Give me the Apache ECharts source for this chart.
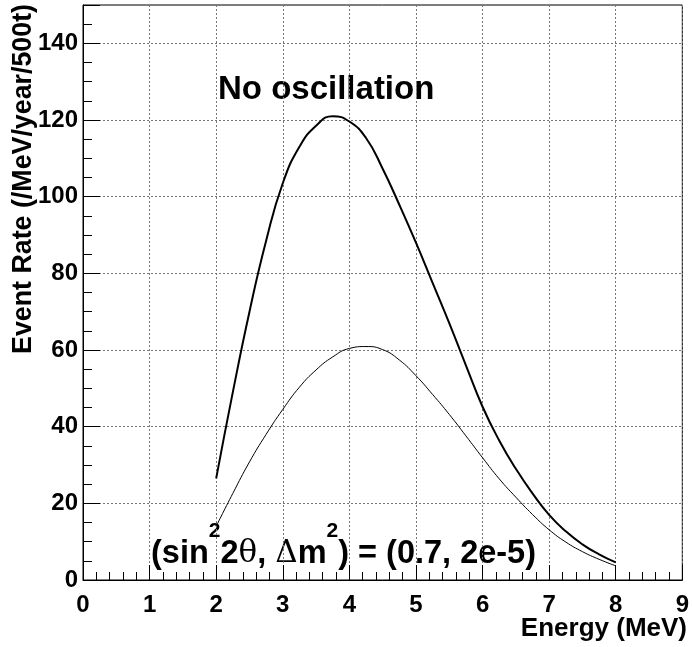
<!DOCTYPE html>
<html>
<head>
<meta charset="utf-8">
<script src="https://cdn.jsdelivr.net/npm/echarts@6/dist/echarts.min.js"></script>
<style>
html,body{margin:0;padding:0;background:#fff;}
#chart{width:692px;height:647px;}
</style>
</head>
<body>
<div id="chart"></div>
<script>
// ---- data ----
var energy = [2, 2.25, 2.5, 2.75, 3, 3.25, 3.5, 3.75, 4, 4.25, 4.5, 4.75, 5, 5.25, 5.5, 5.75, 6, 6.25, 6.5, 6.75, 7, 7.25, 7.5, 7.75, 8];
var noOscillation = [26.5, 49, 70, 88.5, 103.5, 113, 118.5, 121, 119.6, 115.3, 107.3, 97.9, 88, 77.5, 67, 56, 45.2, 36.4, 29, 22.6, 17, 12.7, 9.3, 6.7, 4.6];
var withOscillation = [14, 22.6, 30.8, 38, 44.5, 50.3, 54.8, 58.2, 60.4, 60.9, 60.1, 57.4, 53.3, 48.4, 43.2, 37.6, 31.9, 26.4, 21.6, 17.1, 13.1, 9.9, 7.4, 5.4, 3.7];
var xTickLabels = ['0', '1', '2', '3', '4', '5', '6', '7', '8', '9'];
var yTickLabels = ['0', '20', '40', '60', '80', '100', '120', '140'];
var xTitle = 'Energy (MeV)';
var yTitle = 'Event Rate (/MeV/year/500t)';
var label1 = 'No oscillation';

function pairs(xs, ys) { return xs.map(function (x, i) { return [x, ys[i]]; }); }

var FONT = 'Liberation Sans, Arial, Helvetica, sans-serif';
var chart = echarts.init(document.getElementById('chart'), null, {renderer: 'canvas'});
var gridLine = {show: true, lineStyle: {color: '#777', type: [2, 2], width: 1}};

var option = {
  backgroundColor: '#fff',
  animation: false,
  grid: {left: 83, right: 5, top: 5, bottom: 67, show: true, borderColor: '#000', borderWidth: 1, backgroundColor: 'transparent'},
  xAxis: [{
    type: 'value', min: 0, max: 9, interval: 1,
    axisLine: {show: true, onZero: false, lineStyle: {color: '#000', width: 1}},
    axisTick: {show: true, inside: true, length: 15, lineStyle: {color: '#000'}},
    minorTick: {show: true, splitNumber: 5, length: 8, lineStyle: {color: '#000'}},
    splitLine: gridLine,
    axisLabel: {
      margin: 13, color: '#000', fontFamily: FONT, fontWeight: 'bold', fontSize: 24,
      formatter: function (v) { var i = Math.round(v); return xTickLabels[i] !== undefined ? xTickLabels[i] : ''; }
    }
  }],
  yAxis: [{
    type: 'value', min: 0, max: 150, interval: 20,
    axisLine: {show: true, onZero: false, lineStyle: {color: '#000', width: 1}},
    axisTick: {show: true, inside: true, length: 17, lineStyle: {color: '#000'}},
    splitLine: gridLine,
    axisLabel: {
      margin: 5, color: '#000', fontFamily: FONT, fontWeight: 'bold', fontSize: 24,
      formatter: function (v) { var i = Math.round(v / 20); return (v % 20 === 0 && yTickLabels[i] !== undefined) ? yTickLabels[i] : ''; }
    }
  }, {
    type: 'value', min: 0, max: 150, interval: 5, position: 'left',
    axisLine: {show: false}, axisLabel: {show: false}, splitLine: {show: false},
    axisTick: {show: true, inside: true, length: 9, lineStyle: {color: '#000'}}
  }],
  series: [{
    type: 'line', name: 'no oscillation', xAxisIndex: 0, yAxisIndex: 0,
    data: pairs(energy, noOscillation), showSymbol: false, smooth: 0.5,
    lineStyle: {color: '#000', width: 2}
  }, {
    type: 'line', name: 'oscillation', xAxisIndex: 0, yAxisIndex: 0,
    data: pairs(energy, withOscillation), showSymbol: false, smooth: 0.5,
    lineStyle: {color: '#000', width: 1}
  }],
  graphic: [{
    type: 'text', x: 218, y: 89.5,
    style: {text: label1, fill: '#000', font: 'bold 33px ' + FONT, align: 'left', verticalAlign: 'middle'}
  }, {
    type: 'text', x: 151, y: 554,
    style: {
      text: '{b|(sin}{s|2}{b|2}{g|θ}{b|, }{g|Δ}{b|m}{s|2}{b|) = (0.7, 2e-5)}',
      align: 'left', verticalAlign: 'middle',
      rich: {
        b: {fontFamily: FONT, fontWeight: 'bold', fontSize: 32.5, lineHeight: 66, fill: '#000', color: '#000'},
        g: {fontFamily: 'DejaVu Serif, serif', fontWeight: 'normal', fontSize: 31, lineHeight: 66, fill: '#000', color: '#000'},
        s: {fontFamily: FONT, fontWeight: 'bold', fontSize: 21, lineHeight: 30, verticalAlign: 'top', fill: '#000', color: '#000'}
      }
    }
  }, {
    type: 'text', x: 687, y: 629,
    style: {text: xTitle, fill: '#000', font: 'bold 26px ' + FONT, align: 'right', verticalAlign: 'middle'}
  }, {
    type: 'text', x: 24, y: 4, rotation: Math.PI / 2,
    style: {text: yTitle, fill: '#000', font: 'bold 26.8px ' + FONT, align: 'right', verticalAlign: 'middle'}
  }]
};
chart.setOption(option);
</script>
</body>
</html>
